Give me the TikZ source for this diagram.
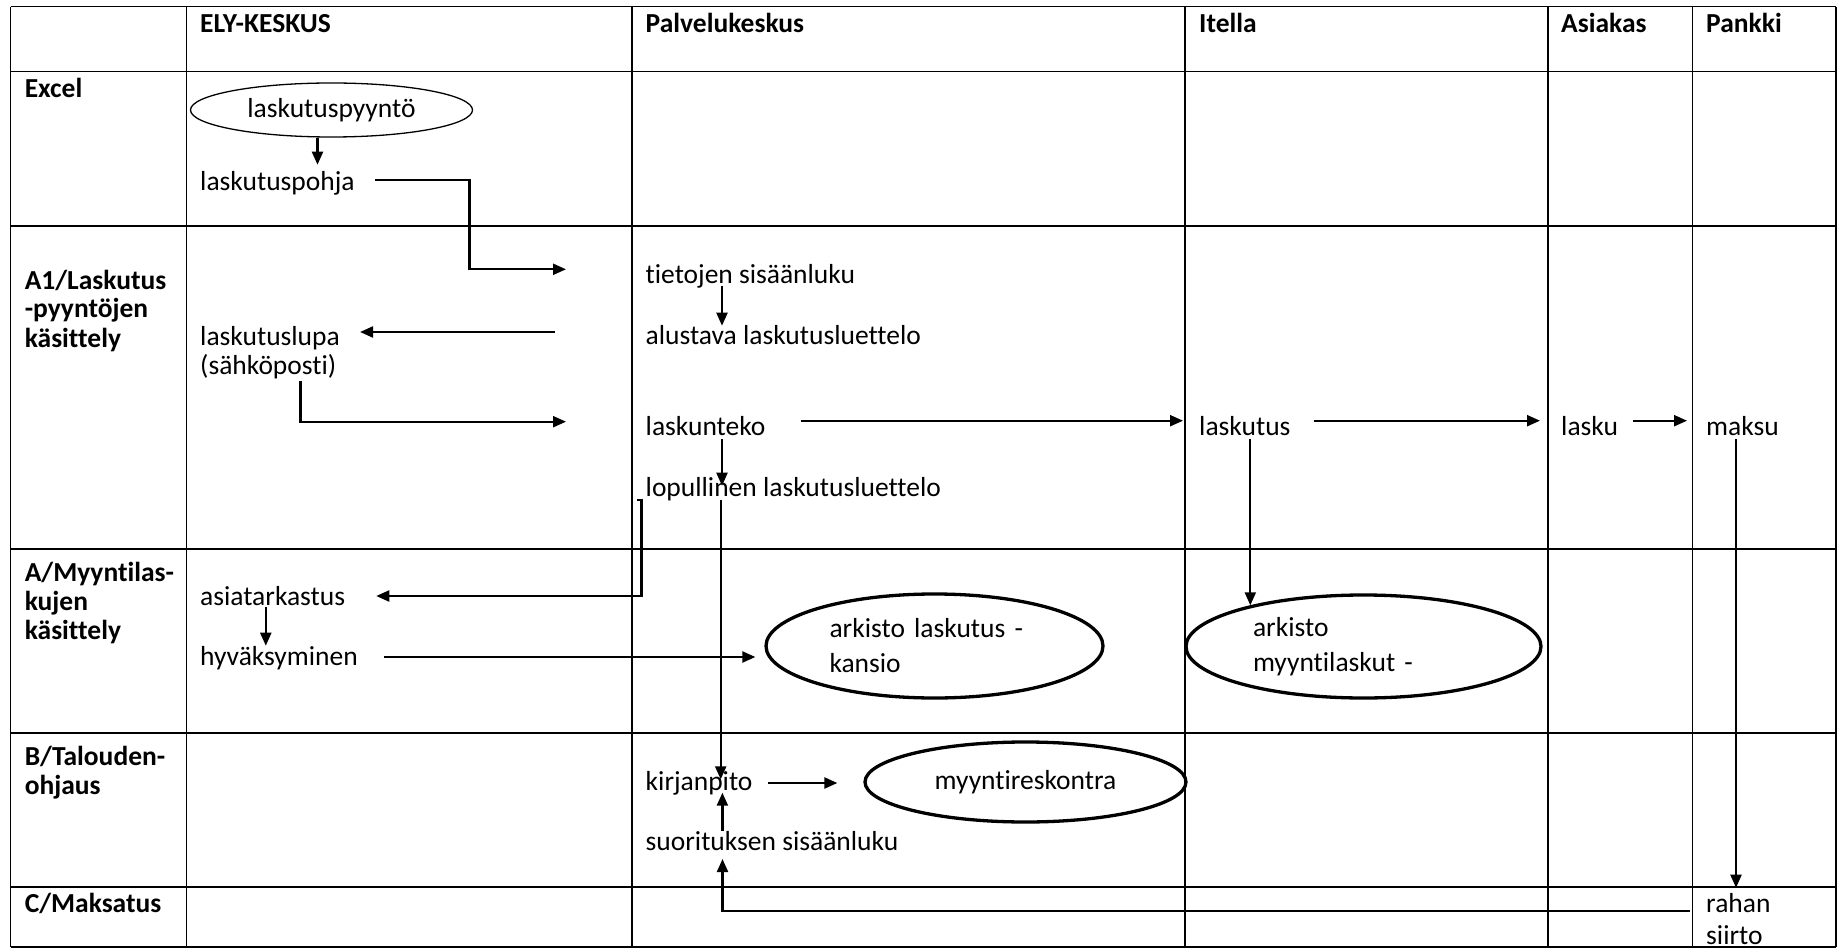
\documentclass[tikz,border=0pt]{standalone}
\usepackage{fontspec}
\setmainfont{Carlito}[Ligatures=NoCommon]
\usetikzlibrary{arrows.meta,positioning,shapes.geometric}

\begin{document}
\begin{tikzpicture}[x=1pt,y=-1pt,
		grid/.style  = {line width=1.5pt},
		txt/.style   = {anchor=west, inner sep=0pt, text height=0.7em, text depth=0.2em, font=\fontsize{27.5}{29}\selectfont},
		lines/.style = {anchor=base west, inner sep=0pt, align=left, font=\fontsize{27.5}{29}\selectfont},
		head/.style  = {txt, font=\fontsize{27.5}{29}\selectfont\bfseries},
		heads/.style = {lines, font=\fontsize{27.5}{29}\selectfont\bfseries},
		oval/.style  = {draw, ellipse, line width=3.3pt, inner sep=0pt, align=left, font=\fontsize{27.5}{35}\selectfont},
		arr/.style   = {-{Triangle[length=13pt,width=11pt]}, line width=2.2pt}]
		
		\useasboundingbox (0,0) rectangle (1838,949);
		
		% table lines
		\foreach \x in {10.6,186.6,632,1185,1548,1692.6,1836}
		\draw[grid] (\x,6.7) -- (\x,947);
		\foreach \y in {6.7,71.7,226,549,733,887,947}
		\draw[grid] (10.6,\y) -- (1836,\y);
		
		% column heads
		\node[head] (h1) at (200,30) {ELY-KESKUS};
		\node[head] (h2) at (645.5,30) {Palvelukeskus};
		\node[head] (h3) at (1199,30) {Itella};
		\node[head] (h4) at (1561,30) {Asiakas};
		\node[head] (h5) at (1706,30) {Pankki};
		
		% row heads (base = last line)
		\node[head] (r0) at (24.6,95) {Excel};
		\node[heads] (r1) at (24.6,347) {A1/Laskutus\\-pyyntöjen\\käsittely};
		\node[heads] (r2) at (24.6,639) {A/Myyntilas-\\kujen\\käsittely};
		\node[heads] (r3) at (24.6,794) {B/Talouden-\\ohjaus};
		\node[head] (r4) at (24.6,910) {C/Maksatus};
		
		% steps
		\node[oval, line width=1.3pt, align=center, minimum width=282pt, minimum height=54pt, font=\fontsize{27.5}{29}\selectfont] (pyynto) at (331.5,110) {laskutuspyyntö};
		\node[txt] (pohja) at (200,188) {laskutuspohja};
		\node[txt] (tieto) at (645.5,281) {tietojen sisäänluku};
		\node[txt] (alust) at (645.5,342) {alustava laskutusluettelo};
		\node[lines] (lupa) at (200,374) {laskutuslupa\\(sähköposti)};
		\node[txt] (teko) at (645.5,432.7) {laskunteko};
		\node[txt] (lopu) at (645.5,494) {lopullinen laskutusluettelo};
		\node[txt] (itel) at (1199,432.7) {laskutus};
		\node[txt] (lasku) at (1561,432.7) {lasku};
		\node[txt] (maksu) at (1706,432.7) {maksu};
		\node[txt] (tark) at (200,602.7) {asiatarkastus};
		\node[txt] (hyva) at (200,663) {hyväksyminen};
		\node[oval, text width=210pt, minimum width=337pt, minimum height=104pt] (ark1) at (934.5,646) {arkisto laskutus -\\kansio};
		\node[oval, text width=221pt, minimum width=355pt, minimum height=103pt] (ark2) at (1363.5,646.5) {arkisto\\myyntilaskut -};
		\node[oval, align=center, minimum width=321pt, minimum height=80pt] (resk) at (1025.5,782) {myyntireskontra};
		\node[txt] (kirj) at (645.5,788) {kirjanpito};
		\node[txt] (suor) at (645.5,848) {suorituksen sisäänluku};
		\node[lines, font=\fontsize{27.5}{32}\selectfont] (rahan) at (1706,944) {rahan\\siirto};
		
		% free ends
		\coordinate (e1) at (566,269.3);
		\coordinate (e2) at (554.6,332);
		\coordinate (e3) at (566,421.7);
		\coordinate (hv) at ([yshift=6pt]hyva.east);
		\coordinate (kv) at ([yshift=5pt]kirj.east);
		
		% short steps down
		\draw[arr, shorten >=18.6pt] (317.5,0 |- pyynto.south) -- (317.5,0 |- pohja.north);
		\draw[arr, shorten >=11.6pt] (722,0 |- tieto.south) -- (722,0 |- alust.north);
		\draw[arr, shorten <=2pt, shorten >=3.6pt] (722,0 |- teko.south) -- (722,0 |- lopu.north);
		\draw[arr, shorten >=12.6pt] (265.8,0 |- tark.south) -- (265.8,0 |- hyva.north);
		\draw[arr, shorten <=12.6pt] (722.4,0 |- suor.north) -- (722.4,0 |- kirj.south);
		
		% flows between columns
		\draw[arr] ([xshift=20pt,yshift=7.7pt]pohja.east) -| (469.5,0 |- e1) -- (e1);
		\draw[arr, shorten >=20pt] (e2) -- (lupa.east |- e2);
		\draw[arr, shorten <=2pt] (300.5,0 |- lupa.south) -- (300.5,0 |- e3) -- (e3);
		\draw[arr, shorten <=35pt, shorten >=16pt] ([yshift=12pt]teko.east) -- ([yshift=12pt]itel.west);
		\draw[arr, shorten <=23pt, shorten >=21pt] ([yshift=12pt]itel.east) -- ([yshift=12pt]lasku.west);
		\draw[arr, shorten <=15pt, shorten >=19pt] ([yshift=12pt]lasku.east) -- ([yshift=12pt]maksu.west);
		\draw[arr, shorten <=2pt] (ark2.160.8 |- itel.south) -- (ark2.160.8);
		\draw[arr, shorten <=2pt, shorten >=5pt] (1736,0 |- maksu.south) -- (1736,0 |- rahan.north);
		\draw[arr] ([xshift=-8.5pt,yshift=-1.6pt]lopu.south west) -- ++(4.5,0) |- ([xshift=31pt,yshift=6.7pt]tark.east);
		\draw[arr, shorten <=26pt, shorten >=9pt] (hv) -- (hv -| ark1.west);
		\draw[arr, shorten <=1.6pt, shorten >=4pt] (720.7,0 |- lopu.south) -- (720.7,0 |- kirj.north);
		\draw[arr, shorten <=15pt, shorten >=26pt] (kv) -- (kv -| resk.west);
		\draw[arr, shorten >=6.3pt] ([xshift=-16pt,yshift=33pt]rahan.base west) -| (722.5,0 |- suor.south);
		
	\end{tikzpicture}
\end{document}
